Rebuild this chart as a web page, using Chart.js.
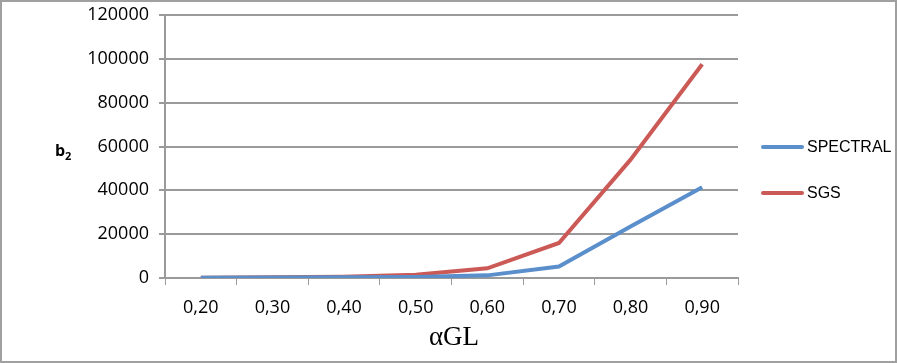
<!DOCTYPE html>
<html>
<head>
<meta charset="utf-8">
<script src="https://cdn.jsdelivr.net/npm/chart.js@4/dist/chart.umd.min.js"></script>
<style>
  html, body { margin: 0; padding: 0; background: #fff; }
  #wrap { width: 898px; height: 363px; position: relative; }
</style>
</head>
<body>
<div id="wrap"><canvas id="chart" width="898" height="363"></canvas></div>
<script>
// categories (alpha GL) and series values
const categories = ["0,20", "0,30", "0,40", "0,50", "0,60", "0,70", "0,80", "0,90"];
const spectral = [100, 200, 300, 500, 1200, 5200, 23500, 41400];
const sgs = [100, 300, 600, 1500, 4400, 16000, 54000, 97500];
const yTicks = [0, 20000, 40000, 60000, 80000, 100000, 120000];

const BLUE = '#5A8FCC';
const RED = '#CB5A57';
const GRID = '#9a9a9a';

// frame, y title, x title, legend
const decor = {
  id: 'decor',
  beforeDraw(chart) {
    const ctx = chart.ctx;
    ctx.save();
    ctx.fillStyle = '#fff';
    ctx.fillRect(0, 0, chart.width, chart.height);
    ctx.restore();
  },
  afterDraw(chart) {
    const ctx = chart.ctx;
    ctx.save();
    // outer frame
    ctx.strokeStyle = '#a0a0a0';
    ctx.lineWidth = 2;
    ctx.strokeRect(1, 1, chart.width - 3, chart.height - 2);

    // y title b2
    ctx.fillStyle = '#000';
    ctx.textBaseline = 'alphabetic';
    ctx.textAlign = 'left';
    ctx.font = 'bold 16px "Open Sans"';
    ctx.fillText('b', 55, 156);
    ctx.font = 'bold 11px "Open Sans"';
    ctx.fillText('2', 65, 160);

    // x title
    ctx.font = '27px "Liberation Serif"';
    ctx.textAlign = 'center';
    ctx.fillText('\u03b1GL', 454, 345);

    // legend
    const items = chart.data.datasets;
    const ys = [147, 193];
    ctx.font = '16px "Liberation Sans"';
    ctx.textAlign = 'left';
    ctx.textBaseline = 'middle';
    items.forEach((ds, i) => {
      ctx.strokeStyle = ds.borderColor;
      ctx.lineWidth = 4;
      ctx.lineCap = 'round';
      ctx.beginPath();
      ctx.moveTo(763, ys[i]);
      ctx.lineTo(802, ys[i]);
      ctx.stroke();
      ctx.fillStyle = '#000';
      ctx.fillText(ds.label, 807, ys[i] + 1);
    });
    ctx.restore();
  }
};

new Chart(document.getElementById('chart'), {
  type: 'line',
  data: {
    labels: categories,
    datasets: [
      { label: 'SPECTRAL', data: spectral, borderColor: BLUE, borderWidth: 4, pointRadius: 0, fill: false, tension: 0 },
      { label: 'SGS', data: sgs, borderColor: RED, borderWidth: 4, pointRadius: 0, fill: false, tension: 0 }
    ]
  },
  options: {
    responsive: false,
    animation: false,
    layout: { padding: { left: 0, right: 160, top: 15, bottom: 0 } },
    plugins: { legend: { display: false }, tooltip: { enabled: false } },
    scales: {
      x: {
        offset: true,
        grid: { display: true, drawOnChartArea: false, drawTicks: true, tickLength: 7, color: GRID, offset: true },
        border: { color: GRID, width: 2 },
        ticks: { color: '#000', font: { family: 'Open Sans', size: 18 }, padding: 12, maxRotation: 0 },
        afterFit(scale) { scale.height = 85; scale.paddingLeft = 0; scale.paddingRight = 0; }
      },
      y: {
        min: 0,
        max: 120000,
        afterBuildTicks(scale) { scale.ticks = yTicks.map(v => ({ value: v })); },
        grid: { color: GRID, lineWidth: 2, tickLength: 6 },
        border: { color: GRID, width: 2 },
        ticks: { color: '#000', font: { family: 'Open Sans', size: 18 }, padding: 10, callback: v => String(v) },
        afterFit(scale) { scale.width = 165; scale.paddingTop = 0; scale.paddingBottom = 0; }
      }
    }
  },
  plugins: [decor]
});
</script>
</body>
</html>
